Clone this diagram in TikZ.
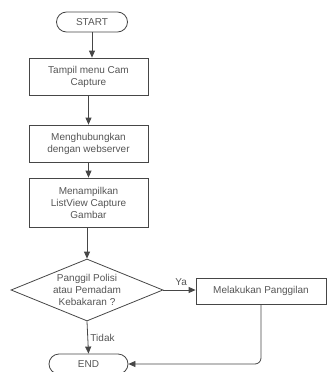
\documentclass[tikz,border=0pt]{standalone}
\usepackage{fontspec}
\setmainfont{Liberation Sans}
\usetikzlibrary{arrows.meta,positioning,shapes.geometric}
\definecolor{garis}{RGB}{70,70,70}
\definecolor{teks}{RGB}{85,85,85}

\begin{document}
\begin{tikzpicture}[x=1pt,y=-1pt,
    every node/.style={font=\fontsize{10}{12}\selectfont, text=teks},
    terminal/.style={draw=garis, line width=0.8pt, rounded corners=10pt, minimum width=#1, minimum height=20pt, inner sep=0pt},
    proses/.style={draw=garis, line width=0.8pt, minimum width=119pt, minimum height=#1, align=center, inner sep=0pt},
    keputusan/.style={draw=garis, line width=0.8pt, diamond, minimum width=152pt, minimum height=62pt, inner sep=0pt},
    panah/.style={draw=garis, line width=0.8pt, -{Triangle[length=7pt,width=6pt]}}]
    \useasboundingbox (0,0) rectangle (327,372);
    % Nodes
    \node[terminal=71pt] (start) at (92,22) {START};
    \node[proses=37pt] (tampil) at (88.5,76.5) {Tampil menu Cam\\Capture};
    \node[proses=37pt] (hubung) at (88.5,143.5) {Menghubungkan\\dengan webserver};
    \node[proses=49pt] (listview) at (88.5,202.5) {Menampilkan\\ListView Capture\\Gambar};
    \node[keputusan] (tanya) at (87,290) {};
    \node[align=center, inner sep=0pt] at (tanya) {Panggil Polisi\\atau Pemadam\\Kebakaran ?};
    \node[proses=26pt, minimum width=130pt] (panggil) at (261,291) {Melakukan Panggilan};
    \node[terminal=79pt] (end) at (88.5,364) {END};
    % Connectors
    \draw[panah] (start) -- (start |- tampil.north);
    \draw[panah] (tampil) -- (hubung);
    \draw[panah] (hubung) -- (listview);
    \draw[panah] (listview.south -| tanya.north) -- (tanya.north);
    \draw[panah] (tanya.east) -- (panggil.west |- tanya.east) node[pos=0.55, above=1pt] {Ya};
    \draw[panah] (tanya.south) -- (end.north) node[midway, right=-1pt] {Tidak};
    \draw[panah, rounded corners=6pt] (panggil.south) |- (end.east);
\end{tikzpicture}
\end{document}
